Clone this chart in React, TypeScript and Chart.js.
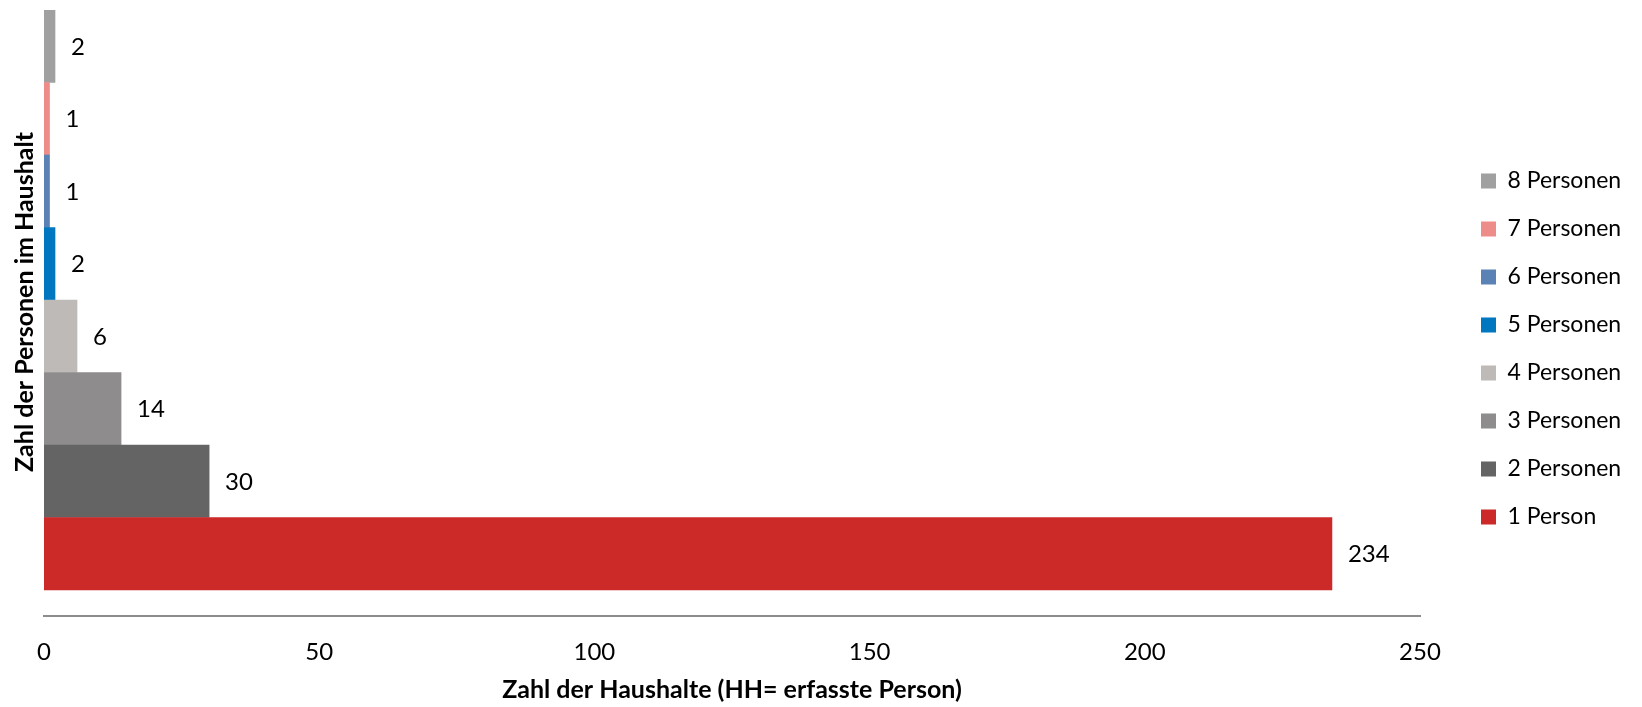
import React, { useEffect, useRef } from 'react';
import { Chart, registerables } from 'chart.js';

Chart.register(...registerables);

// ---- data ----
const householdLabels = [
  '1 Person',
  '2 Personen',
  '3 Personen',
  '4 Personen',
  '5 Personen',
  '6 Personen',
  '7 Personen',
  '8 Personen',
];
const householdCounts = [234, 30, 14, 6, 2, 1, 1, 2];
const barColors = [
  '#CC2A29',
  '#646464',
  '#8E8C8C',
  '#BDBAB7',
  '#0077BE',
  '#5A82B4',
  '#EE8C8A',
  '#A0A0A0',
];
const xAxisMin = 0;
const xAxisMax = 250;
const xAxisStep = 50;
const xAxisTitle = 'Zahl der Haushalte (HH= erfasste Person)';
const yAxisTitle = 'Zahl der Personen im Haushalt';

const FONT = 'Lato, "Open Sans", sans-serif';

const decorPlugin = {
  id: 'decor',
  afterLayout(chart: any) {
    const lg = chart.legend;
    if (lg) {
      const w = lg.width;
      const left = 1456;
      lg.left = left;
      lg.right = left + w;
    }
  },
  afterDatasetsDraw(chart: any) {
    const ctx = chart.ctx;
    ctx.save();
    ctx.font = `24px ${FONT}`;
    ctx.fillStyle = '#000';
    ctx.textAlign = 'left';
    ctx.textBaseline = 'middle';
    chart.data.datasets.forEach((ds: any, i: number) => {
      const meta = chart.getDatasetMeta(i);
      meta.data.forEach((el: any, j: number) => {
        const v = ds.data[j].x;
        ctx.fillText(String(v), el.x + 16, el.y + 1);
      });
    });
    ctx.restore();
  },
  afterDraw(chart: any) {
    const ctx = chart.ctx;
    const area = chart.chartArea;
    const n = chart.data.datasets.length;
    const topEl: any = chart.getDatasetMeta(n - 1).data[0];
    const botEl: any = chart.getDatasetMeta(0).data[0];
    const top = topEl.y - topEl.height / 2;
    const bottom = botEl.y + botEl.height / 2;
    ctx.save();
    ctx.font = `bold 25px ${FONT}`;
    ctx.fillStyle = '#000';
    ctx.textAlign = 'center';
    ctx.textBaseline = 'alphabetic';
    // x axis title
    ctx.fillText(xAxisTitle, (area.left + area.right) / 2, area.bottom + 82);
    // y axis title
    ctx.translate(33, (top + bottom) / 2 + 2);
    ctx.rotate(-Math.PI / 2);
    ctx.fillText(yAxisTitle, 0, 0);
    ctx.restore();
  },
};

export default function App() {
  const canvasRef = useRef<HTMLCanvasElement | null>(null);

  useEffect(() => {
    if (!canvasRef.current) return;
    const datasets = householdLabels.map((label, i) => ({
      label,
      data: [{ x: householdCounts[i], y: i }],
      backgroundColor: barColors[i],
      borderWidth: 0,
      categoryPercentage: 1,
      barPercentage: 1,
      grouped: false,
    }));

    const chart = new Chart(canvasRef.current, {
      type: 'bar',
      data: { datasets },
      options: {
        animation: false,
        responsive: false,
        indexAxis: 'y',
        events: [],
        layout: { padding: { left: 44, top: 10, bottom: 19, right: 0 } },
        scales: {
          x: {
            type: 'linear',
            min: xAxisMin,
            max: xAxisMax,
            offset: false,
            grid: { display: false, drawTicks: false },
            border: { display: true, color: '#8C8C8C', width: 2 },
            ticks: {
              stepSize: xAxisStep,
              padding: 21.6,
              color: '#000',
              font: { family: FONT, size: 24 },
            },
            afterFit(scale: any) {
              scale.paddingRight = 1642 - 1420;
            },
          },
          y: {
            type: 'linear',
            display: false,
            offset: false,
            grid: { offset: false },
            min: -0.859,
            max: householdLabels.length - 0.5,
            stacked: true,
            ticks: { stepSize: 1, includeBounds: false },
          },
        },
        plugins: {
          tooltip: { enabled: false },
          legend: {
            display: true,
            position: 'right',
            reverse: true,
            labels: {
              boxWidth: 15,
              boxHeight: 15,
              padding: 25,
              color: '#000',
              font: { family: FONT, size: 23 },
            },
          },
        },
      },
      plugins: [decorPlugin],
    } as any);

    return () => chart.destroy();
  }, []);

  return (
    <div style={{ position: 'fixed', left: 0, top: 0, width: 1642, height: 707, background: '#fff' }}>
      <canvas ref={canvasRef} width={1642} height={707} style={{ display: 'block' }} />
    </div>
  );
}
